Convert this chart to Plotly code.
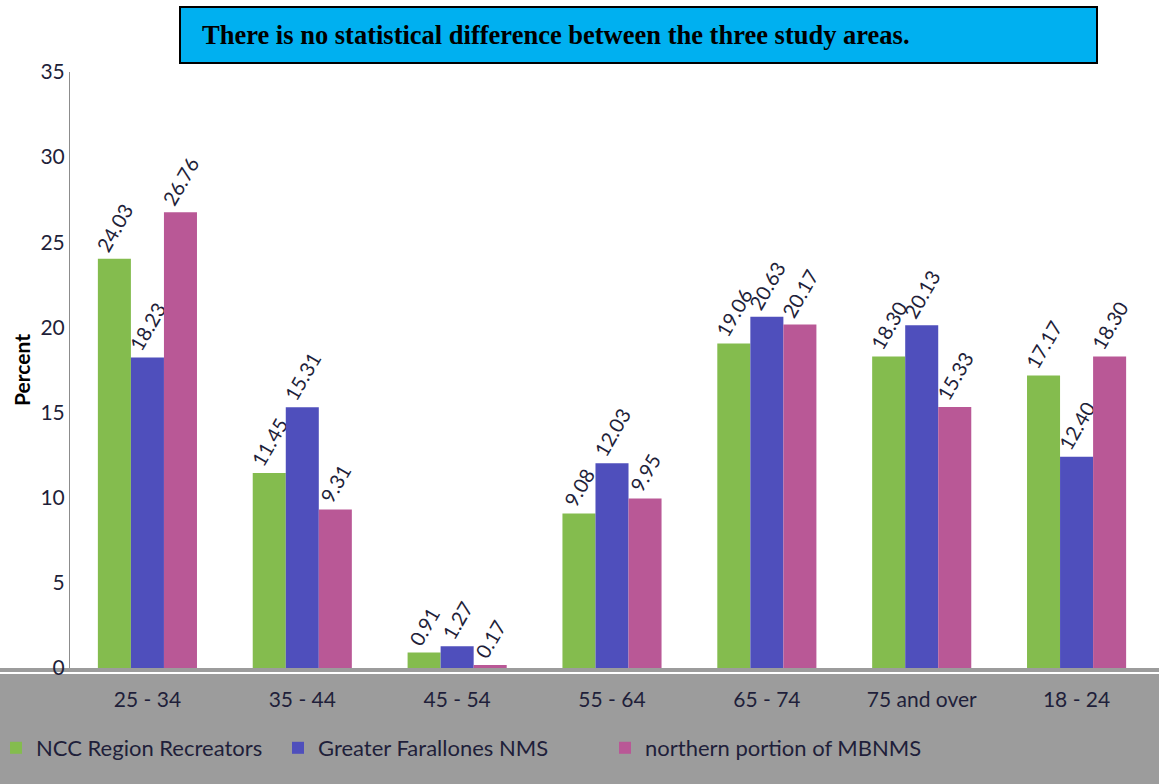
import plotly.graph_objects as go

# Category order as it appears left-to-right in the reference
categories = ["25 - 34", "35 - 44", "45 - 54", "55 - 64", "65 - 74", "75 and over", "18 - 24"]
ncc_region = [24.03, 11.45, 0.91, 9.08, 19.06, 18.30, 17.17]
greater_farallones = [18.23, 15.31, 1.27, 12.03, 20.63, 20.13, 12.40]
northern_mbnms = [26.76, 9.31, 0.17, 9.95, 20.17, 15.33, 18.30]

series_names = ["NCC Region Recreators", "Greater Farallones NMS", "northern portion of MBNMS"]
series_values = [ncc_region, greater_farallones, northern_mbnms]
series_colors = ["#84BC4E", "#4F4FBC", "#B95896"]
legend_ids = ["legend2", "legend3", "legend4"]
legend_left_px = [-4, 278, 605]

W, H = 1159, 784
L, R, T, B = 70, 5, 72, 116
pw, ph = W - L - R, H - T - B

def px_x(x):
    return (x - L) / pw

def px_y(y):
    return (H - B - y) / ph

font_family = "Lato, 'Open Sans', sans-serif"
txt_color = "#1f1f3a"

fig = go.Figure()
for name, vals, col, lg in zip(series_names, series_values, series_colors, legend_ids):
    fig.add_trace(go.Bar(
        name=name, x=categories, y=vals, legend=lg, showlegend=True,
        marker=dict(color=col, line=dict(width=0)),
        texttemplate="%{y:.2f}", textposition="outside", textangle=-60,
        constraintext="none", cliponaxis=False,
        textfont=dict(family=font_family, size=20, color=txt_color),
    ))

legend_common = dict(orientation="h", xanchor="left", y=px_y(748), yanchor="middle",
                     bgcolor="rgba(0,0,0,0)", font=dict(size=22, color=txt_color))

fig.update_layout(
    width=W, height=H,
    margin=dict(l=L, r=R, t=T, b=B, autoexpand=False),
    paper_bgcolor="white", plot_bgcolor="white",
    barmode="group", bargap=0.36, bargroupgap=0,
    showlegend=True,
    font=dict(family=font_family, size=21, color=txt_color),
    xaxis=dict(showgrid=False, showline=False, ticks="", ticklabelstandoff=17,
               tickfont=dict(size=21, color=txt_color)),
    yaxis=dict(range=[0, 35], dtick=5, showgrid=False, zeroline=False,
               showline=True, linecolor="#8c8c8c", linewidth=1,
               tickfont=dict(size=21, color=txt_color),
               title=dict(text="<b>Percent</b>", font=dict(size=21, color="black"), standoff=4)),
    legend2=dict(x=px_x(legend_left_px[0]), **legend_common),
    legend3=dict(x=px_x(legend_left_px[1]), **legend_common),
    legend4=dict(x=px_x(legend_left_px[2]), **legend_common),
    shapes=[
        dict(type="rect", xref="paper", yref="paper", x0=px_x(0), x1=px_x(W), y0=px_y(H), y1=px_y(668),
             fillcolor="#9C9C9C", line=dict(width=0), layer="below"),
        dict(type="line", xref="paper", yref="paper", x0=px_x(0), x1=px_x(W), y0=px_y(673), y1=px_y(673),
             line=dict(color="white", width=2), layer="below"),
        dict(type="rect", xref="paper", yref="paper", x0=px_x(180), x1=px_x(1097), y0=px_y(63), y1=px_y(7),
             fillcolor="#00B0F0", line=dict(color="black", width=2)),
    ],
    annotations=[
        dict(text="<b>There is no statistical difference between the three study areas.</b>",
             xref="paper", yref="paper", x=px_x(200), y=px_y(35), xanchor="left", yanchor="middle",
             showarrow=False, font=dict(family="'Liberation Serif', 'Times New Roman', serif", size=26.5, color="black")),
    ],
)

fig.write_html("out.html", config={"displayModeBar": False},
               post_script="document.body.style.margin='0';")
